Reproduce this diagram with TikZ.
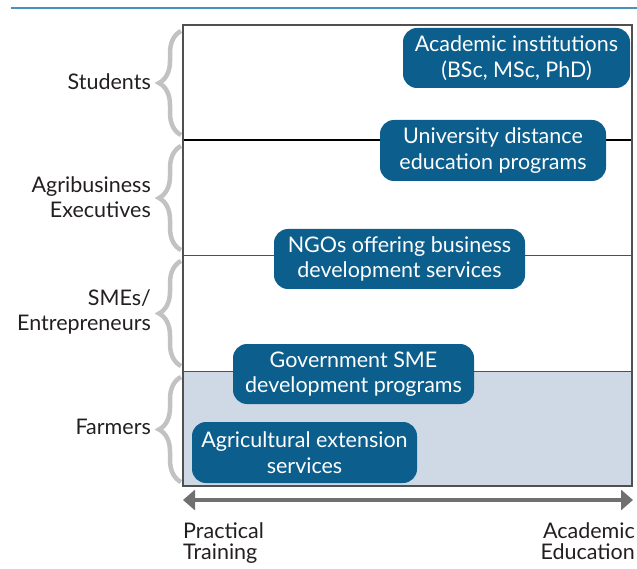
\documentclass[tikz,border=0pt]{standalone}
\usepackage{fontspec}
\setmainfont{Lato}
\usetikzlibrary{arrows.meta,decorations.pathreplacing,positioning}
\definecolor{progc}{RGB}{12,94,140}
\definecolor{farmc}{RGB}{206,217,229}
\definecolor{bracec}{RGB}{194,194,196}
\definecolor{framec}{RGB}{80,80,80}
\definecolor{arrc}{RGB}{112,112,112}
\definecolor{txt}{RGB}{35,31,32}
\definecolor{rulec}{RGB}{70,145,190}
\tikzset{
  prog/.style={fill=progc,rounded corners=14pt,text=white,align=center,font=\fontsize{21.5}{25.5}\selectfont,inner sep=0pt},
  grp/.style={font=\fontsize{21.5}{25.5}\selectfont,text=txt,align=right,anchor=east,inner sep=0pt},
  axlab/.style={font=\fontsize{21.5}{21}\selectfont,text=txt,inner sep=0pt},
  brc/.style={decorate,decoration={brace,amplitude=22pt,aspect=0.5},bracec,line width=4.5pt},
  sep/.style={framec,line width=0.9pt},
  biarrow/.style={{Triangle[length=12pt,width=20pt]}-{Triangle[length=12pt,width=20pt]},arrc,line width=3.5pt},
}
\begin{document}
\begin{tikzpicture}[x=1pt,y=-1pt]
\useasboundingbox (0,0) rectangle (637,569);
% top rule
\draw[rulec,line width=1.4pt] (11,8) -- (637,8);
% farmers band
\fill[farmc] (183,371) rectangle (632,486);
% row separators
\draw[black,line width=2.2pt] (183,140) -- (632,140);
\draw[sep] (183,255) -- (632,255);
\draw[sep] (183,371) -- (632,371);
\draw[framec,line width=1.3pt] (183,25) rectangle (632,486);
% braces
\foreach \ya/\yb in {31/135, 146/250, 261/366, 377/482}{
  \draw[brc] (181,\yb) -- (181,\ya);
}
% group labels
\node[grp] (students) at (151,82) {Students};
\node[grp] (agri) at (151,197) {Agribusiness\\Executives};
\node[grp] (smes) at (151,312) {SMEs/\\Entrepreneurs};
\node[grp] (farmers) at (151,427) {Farmers};
% programs
\node[prog,minimum width=227pt,minimum height=60pt] (acad) at (516.5,58) {Academic institutions\\(BSc, MSc, PhD)};
\node[prog,minimum width=226pt,minimum height=61pt] (dist) at (493,150.5) {University distance\\education programs};
\node[prog,minimum width=251pt,minimum height=60pt] (ngo) at (399.5,259) {NGOs offering business\\development services};
\node[prog,minimum width=241pt,minimum height=60pt] (gov) at (353.5,374) {Government SME\\development programs};
\node[prog,minimum width=225pt,minimum height=61pt] (ext) at (304.5,452.5) {Agricultural extension\\services};
% axis
\coordinate (arrL) at (183,500);
\coordinate (arrR) at (633,500);
\draw[biarrow] (arrL) -- (arrR);
\node[axlab,anchor=north west,align=left] (prac) at (183,522) {Practical\\Training};
\node[axlab,anchor=north east,align=right] (acadedu) at (635,522) {Academic\\Education};
\end{tikzpicture}
\end{document}
